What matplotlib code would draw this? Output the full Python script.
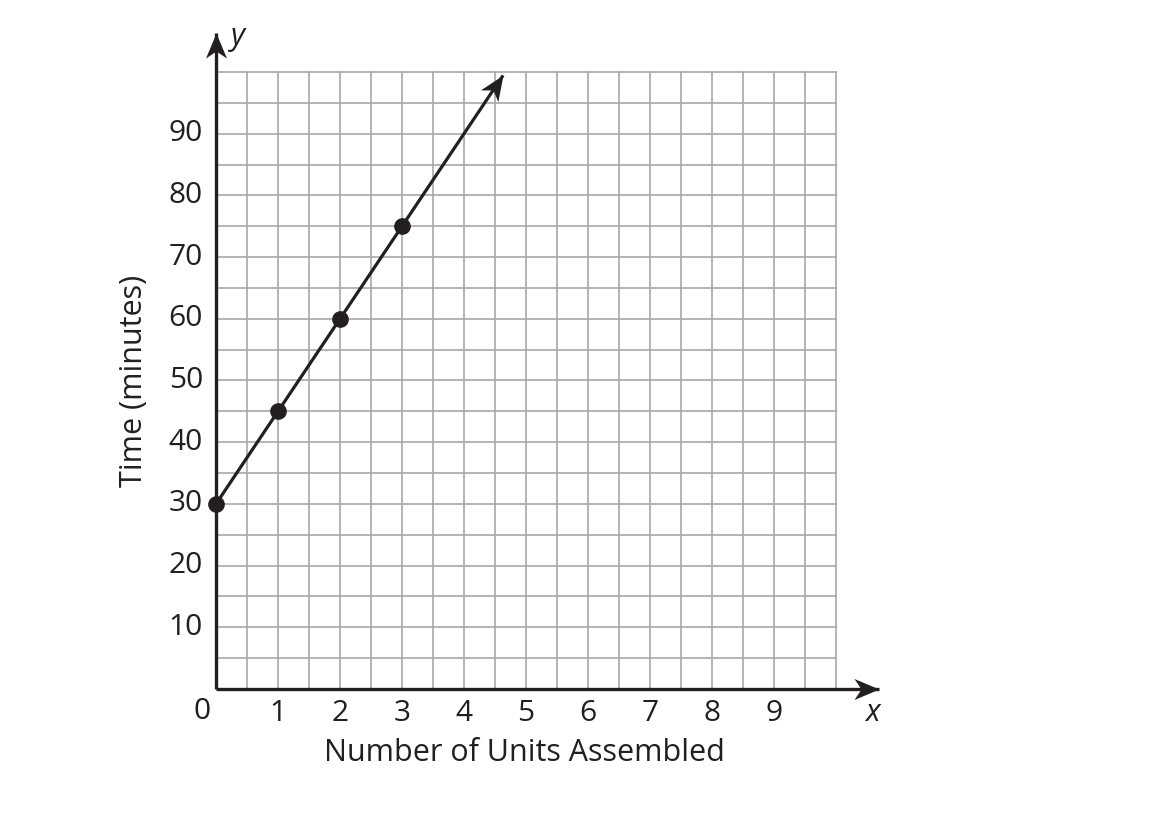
import numpy as np
import matplotlib
matplotlib.use('Agg')
import matplotlib.pyplot as plt
from matplotlib.markers import MarkerStyle
from matplotlib.path import Path
from matplotlib.transforms import Affine2D

# Points on the line: units assembled vs time in minutes
units = [0, 1, 2, 3]
minutes = [30, 45, 60, 75]
line_end = (4.63, 99.45)
x_ticks = [1, 2, 3, 4, 5, 6, 7, 8, 9]
y_ticks = [10, 20, 30, 40, 50, 60, 70, 80, 90]

plt.rcParams['font.family'] = ['Open Sans', 'DejaVu Sans']
text_color = '#231f20'
grid_color = '#a8a8a8'

fig = plt.figure(figsize=(11.64, 8.22), dpi=100)
ax = fig.add_axes([216 / 1164, 133 / 822, 682 / 1164, 106 * 6.17 / 822])
ax.set_xlim(0, 11)
ax.set_ylim(0, 106)
ax.axis('off')

# grid
for gx in np.arange(0.5, 10.01, 0.5):
    ax.plot([gx, gx], [0, 100], color=grid_color, lw=1.2, zorder=1)
for gy in np.arange(5, 100.01, 5):
    ax.plot([0, 10], [gy, gy], color=grid_color, lw=1.2, zorder=1)

# swept arrow head, tip at origin, pointing right
head = Path([(0, 0), (-1, 0.42), (-0.72, 0), (-1, -0.42), (0, 0)],
            [Path.MOVETO, Path.LINETO, Path.LINETO, Path.LINETO, Path.CLOSEPOLY])


def arrow_line(x0, y0, x1, y1, lw, size):
    p0 = ax.transData.transform((x0, y0))
    p1 = ax.transData.transform((x1, y1))
    ang = np.degrees(np.arctan2(p1[1] - p0[1], p1[0] - p0[0]))
    ax.plot([x0, x1], [y0, y1], color=text_color, lw=lw, zorder=3,
            clip_on=False, solid_capstyle='butt')
    m = MarkerStyle(head, transform=Affine2D().rotate_deg(ang))
    ax.plot([x1], [y1], marker=m, ms=size, color=text_color, mew=0,
            zorder=4, clip_on=False)


arrow_line(0, 0, 10.7, 0, 2.4, 36)
arrow_line(0, 0, 0, 106.4, 2.4, 36)
arrow_line(units[0], minutes[0], line_end[0], line_end[1], 2.3, 36)

ax.plot(units, minutes, 'o', color=text_color, ms=11, zorder=5, clip_on=False)

# tick labels
for t in x_ticks:
    ax.text(t, -3.9, str(t), ha='center', va='center', fontsize=21.5,
            color=text_color)
for t in y_ticks:
    ax.text(-0.21, t, str(t), ha='right', va='center', fontsize=21.5,
            color=text_color)
ax.text(-0.22, -3.7, '0', ha='center', va='center', fontsize=21.5,
        color=text_color)

# axis names
ax.text(0.36, 105.6, 'y', ha='center', va='center', fontsize=22,
        style='italic', color=text_color)
ax.text(10.58, -3.9, 'x', ha='center', va='center', fontsize=22,
        style='italic', color=text_color)
ax.text(4.98, -10.3, 'Number of Units Assembled', ha='center', va='center',
        fontsize=22, color=text_color)
ax.text(-1.32, 50, 'Time (minutes)', ha='center', va='center', rotation=90,
        fontsize=22, color=text_color)

fig.savefig('out.png', dpi=100)
